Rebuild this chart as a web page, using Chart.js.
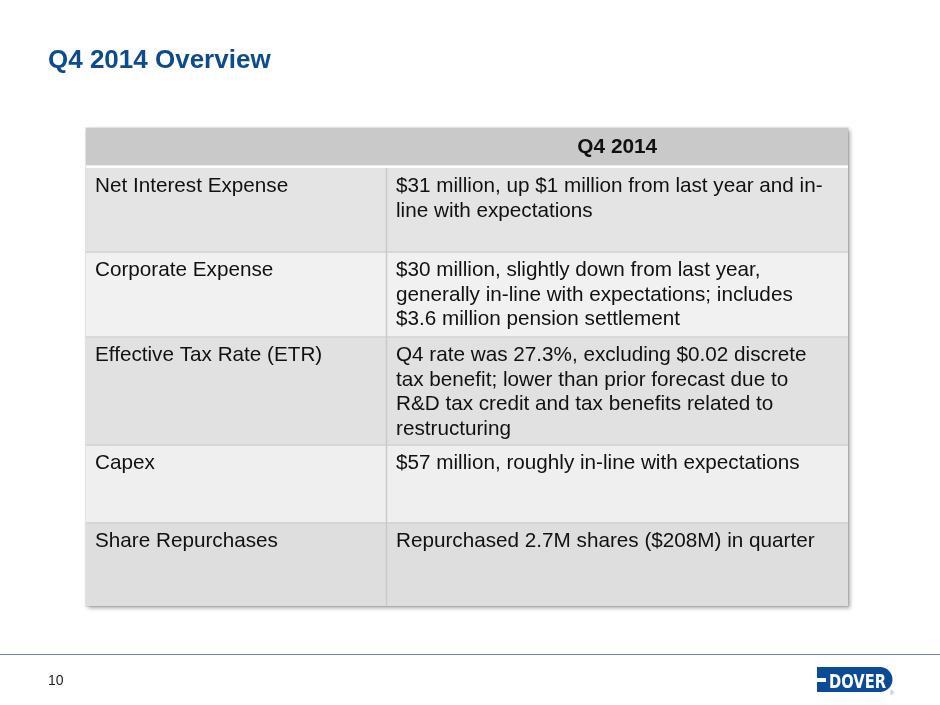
<!DOCTYPE html>
<html>
<head>
<meta charset="utf-8">
<script src="https://cdn.jsdelivr.net/npm/chart.js@4.4.1/dist/chart.umd.min.js"></script>
<style>
  html, body { margin: 0; padding: 0; background: #fff; }
  body { width: 940px; height: 705px; position: relative; overflow: hidden; font-family: "Liberation Sans", Arial, sans-serif; }
  #slide { position: absolute; left: 0; top: 0; }
  .title { position: absolute; left: 48px; top: 46px; font-size: 26px; line-height: 26px; font-weight: bold; color: #0d4b8e; white-space: nowrap; }
  .rule { position: absolute; left: 0; top: 654px; width: 940px; height: 0; border-top: 1.5px solid #7186b6; }
  .page { position: absolute; left: 48px; top: 673px; font-size: 14px; line-height: 14px; color: #222; }
  .logo { position: absolute; left: 812px; top: 663px; }
</style>
</head>
<body>
<canvas id="slide" width="940" height="705"></canvas>
<div class="title">Q4 2014 Overview</div>
<div class="rule"></div>
<div class="page">10</div>
<svg class="logo" width="90" height="36" viewBox="0 0 90 36">
  <path d="M5 4 H68 A12.5 12.5 0 0 1 68 29 H5 Z" fill="#0b4a96"/>
  <rect x="5" y="15" width="9" height="4" fill="#fff"/>
  <text x="17" y="24.5" fill="#fff" font-family="'Liberation Sans Narrow','DejaVu Sans Condensed',sans-serif" font-weight="bold" font-size="19" textLength="57" lengthAdjust="spacingAndGlyphs">DOVER</text>
  <text x="78" y="32" fill="#8a8a8a" font-family="'Liberation Sans',sans-serif" font-size="5">®</text>
</svg>
<script>
// table content
const columnHeaders = ['', 'Q4 2014'];
const metrics = [
  'Net Interest Expense',
  'Corporate Expense',
  'Effective Tax Rate (ETR)',
  'Capex',
  'Share Repurchases',
];
const notes = [
  ['$31 million, up $1 million from last year and in-', 'line with expectations'],
  ['$30 million, slightly down from last year,', 'generally in-line with expectations; includes', '$3.6 million pension settlement'],
  ['Q4 rate was 27.3%, excluding $0.02 discrete', 'tax benefit; lower than prior forecast due to', 'R&D tax credit and tax benefits related to', 'restructuring'],
  ['$57 million, roughly in-line with expectations'],
  ['Repurchased 2.7M shares ($208M) in quarter'],
];

// layout of the table in scale units (1 unit ~ 1px of the slide)
const rowEdges = [0, 40, 124, 209, 317, 395, 478];
const colEdges = [0, 300.5, 762];
const rowFills = ['#c9c9c9', '#e4e4e4', '#f1f1f1', '#e1e1e1', '#efefef', '#dedede'];
const FONT = '"Liberation Sans", Arial, sans-serif';

const tablePlugin = {
  id: 'tablePlugin',
  beforeDatasetsDraw(chart) {
    const { ctx } = chart;
    const x = chart.scales.x, y = chart.scales.y;
    const px = (v) => x.getPixelForValue(v);
    const py = (v) => y.getPixelForValue(v);
    const left = px(colEdges[0]), right = px(colEdges[colEdges.length - 1]);
    const top = py(rowEdges[0]), bottom = py(rowEdges[rowEdges.length - 1]);

    ctx.save();
    // drop shadow under the whole table
    ctx.shadowColor = 'rgba(0,0,0,0.35)';
    ctx.shadowBlur = 4;
    ctx.shadowOffsetX = 2;
    ctx.shadowOffsetY = 2;
    ctx.fillStyle = '#dcdcdc';
    ctx.fillRect(left, top, right - left, bottom - top);
    ctx.restore();

    // row fills
    ctx.save();
    rowFills.forEach((c, i) => {
      ctx.fillStyle = c;
      ctx.fillRect(left, py(rowEdges[i]), right - left, py(rowEdges[i + 1]) - py(rowEdges[i]));
    });
    // white band under the header
    ctx.fillStyle = '#ffffff';
    ctx.fillRect(left, py(rowEdges[1] - 2.6), right - left, py(rowEdges[1]) - py(rowEdges[1] - 2.6));

    // row separators
    ctx.strokeStyle = '#d0d0d0';
    ctx.lineWidth = 1.5;
    for (let i = 2; i < rowEdges.length - 1; i++) {
      ctx.beginPath();
      ctx.moveTo(left, py(rowEdges[i]));
      ctx.lineTo(right, py(rowEdges[i]));
      ctx.stroke();
    }
    // column divider (body only)
    ctx.strokeStyle = '#cacaca';
    ctx.beginPath();
    ctx.moveTo(px(colEdges[1]), py(rowEdges[1]));
    ctx.lineTo(px(colEdges[1]), bottom);
    ctx.stroke();
    // faint outer edge
    ctx.strokeStyle = 'rgba(0,0,0,0.08)';
    ctx.lineWidth = 1;
    ctx.strokeRect(left - 0.5, top - 0.5, right - left + 1, bottom - top + 1);

    // header text
    ctx.fillStyle = '#111';
    ctx.font = 'bold 20.8px ' + FONT;
    ctx.textAlign = 'center';
    ctx.textBaseline = 'alphabetic';
    columnHeaders.forEach((h, c) => {
      if (!h) return;
      ctx.fillText(h, (px(colEdges[c]) + px(colEdges[c + 1])) / 2, py(25));
    });

    // body text
    ctx.font = '20.7px ' + FONT;
    ctx.textAlign = 'left';
    const lineGap = 24.5;
    metrics.forEach((m, r) => {
      const base = py(rowEdges[r + 1] + 24);
      ctx.fillText(m, px(colEdges[0]) + 9, base);
      notes[r].forEach((line, k) => {
        ctx.fillText(line, px(colEdges[1]) + 9.5, base + k * lineGap);
      });
    });
    ctx.restore();
  },
};

new Chart(document.getElementById('slide'), {
  type: 'scatter',
  data: { datasets: [{ data: [], pointRadius: 0 }] },
  options: {
    responsive: false,
    animation: false,
    layout: { padding: { left: 86, top: 128, right: 92, bottom: 99 } },
    plugins: { legend: { display: false }, tooltip: { enabled: false }, title: { display: false } },
    scales: {
      x: { type: 'linear', min: colEdges[0], max: colEdges[colEdges.length - 1], display: false },
      y: { type: 'linear', min: rowEdges[0], max: rowEdges[rowEdges.length - 1], reverse: true, display: false },
    },
  },
  plugins: [tablePlugin],
});
</script>
</body>
</html>
